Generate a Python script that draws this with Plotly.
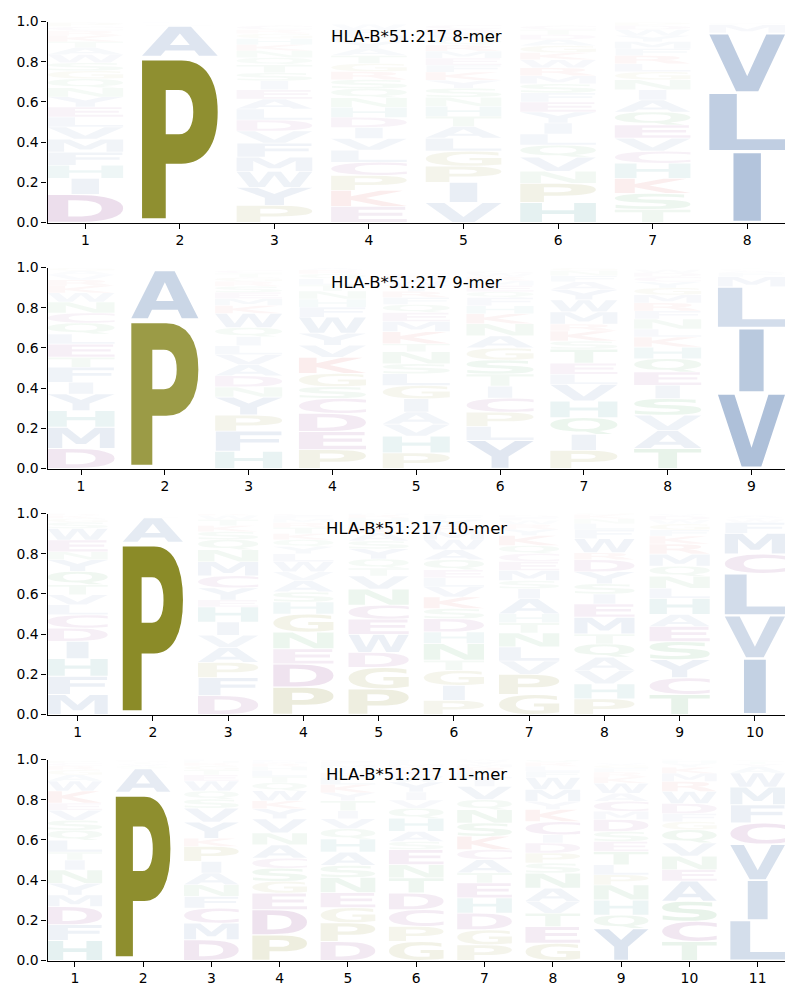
import glob, os, struct
import plotly.graph_objects as go

# ---------------- data (probabilities, stacked bottom -> top) ----------------
titles = ["HLA-B*51:217 8-mer", "HLA-B*51:217 9-mer",
          "HLA-B*51:217 10-mer", "HLA-B*51:217 11-mer"]

mer8_letters = ["DIHFMVLEYNQGSWATKRCP", "PASTVLG", "PYWMFVDLAEISTQNKHGRC",
                "EKPCLVIDHNQSRGTAYMFW", "VIPGLATHNSYKFEMRQWDC", "HPNVQLIYEFSMRWKGADTC",
                "TSKHCVEQAINGLRFMYWDP", "ILVMFAT"]
mer8_probs = [
    [.14, .08, .065, .065, .065, .06, .05, .05, .05, .045, .045, .04, .04, .04, .035, .03, .03, .025, .02, .02],
    [.826, .152, .006, .005, .004, .004, .003],
    [.085, .09, .08, .07, .07, .06, .055, .055, .05, .045, .045, .04, .04, .035, .035, .03, .03, .025, .02, .02],
    [.08, .08, .075, .065, .06, .058, .055, .05, .05, .048, .045, .045, .04, .04, .04, .035, .035, .03, .03, .025],
    [.10, .10, .08, .075, .065, .058, .05, .05, .045, .045, .04, .04, .035, .035, .035, .03, .03, .025, .025, .02],
    [.10, .095, .06, .07, .06, .055, .055, .055, .05, .045, .045, .04, .04, .04, .035, .035, .03, .025, .025, .02],
    [.065, .08, .075, .075, .06, .065, .065, .065, .06, .05, .05, .04, .04, .04, .035, .035, .03, .03, .02, .015],
    [.353, .293, .297, .04, .008, .005, .004],
]

mer9_letters = ["DMHYIFTELQCNWKRVAG", "PASTVG", "HFPYNDAVLIQWKMESRGTC",
                "PEDCSGKVYWFHNTLQRA", "PHVAIGLSNTKMEQFRYWDC", "YLPCITSGANKHFQEMRWD",
                "PIQHVLETSKRMWYAFNG", "TAVSIEQHKLNFRMGYCDW", "VILMFACT"]
mer9_probs = [
    [.10, .105, .083, .083, .058, .075, .05, .065, .05, .055, .05, .055, .045, .035, .03, .025, .02, .015],
    [.741, .246, .005, .004, .003, .003],
    [.086, .10, .08, .09, .05, .055, .055, .05, .045, .045, .045, .07, .04, .035, .03, .03, .025, .02, .02, .015],
    [.094, .09, .09, .075, .058, .066, .08, .06, .06, .08, .05, .04, .04, .03, .03, .025, .02, .01],
    [.078, .083, .06, .06, .066, .066, .058, .05, .06, .04, .06, .05, .045, .04, .035, .03, .03, .025, .02, .015],
    [.14, .07, .07, .07, .06, .06, .07, .06, .06, .06, .05, .04, .04, .03, .03, .025, .02, .015, .01],
    [.09, .08, .083, .083, .083, .05, .055, .07, .04, .05, .035, .06, .06, .05, .04, .03, .025, .015],
    [.10, .09, .075, .083, .066, .066, .066, .058, .05, .04, .05, .04, .04, .04, .035, .03, .025, .02, .015],
    [.376, .324, .204, .05, .02, .01, .008, .005],
]

mer10_letters = ["MFHIDCLVTQYNEWSGKR", "PASVTG", "DFPAVIHEYCMNQSKTWR",
                 "PDENGHSAVWLYQKTRMFCI", "PGDWECNVTQYSAKLHRM", "PIGTNHDSKVLEQAWMRYFC",
                 "GPVLNTHAISMECQKYRWFD", "PHVAQTMEISYDRWFLNKGC", "TCYSEAHLNQMRKFGWDV",
                 "IVLCMFWYATS"]
mer10_probs = [
    [.10, .09, .088, .086, .066, .066, .05, .05, .05, .066, .058, .04, .058, .058, .03, .02, .015, .01],
    [.857, .122, .006, .005, .004, .004],
    [.094, .09, .075, .075, .06, .066, .075, .035, .06, .06, .07, .06, .05, .04, .03, .03, .02, .01],
    [.136, .116, .075, .083, .09, .06, .05, .055, .045, .05, .04, .035, .035, .03, .03, .025, .02, .015, .01, .01],
    [.127, .107, .075, .09, .075, .07, .08, .065, .04, .045, .05, .04, .04, .03, .025, .02, .015, .01],
    [.07, .075, .075, .05, .083, .058, .066, .05, .058, .05, .045, .04, .05, .05, .05, .04, .03, .03, .02, .01],
    [.10, .10, .066, .07, .07, .05, .045, .075, .05, .04, .05, .045, .04, .04, .05, .03, .025, .02, .015, .01],
    [.078, .075, .066, .066, .066, .05, .083, .066, .05, .05, .06, .06, .035, .07, .045, .03, .025, .02, .015, .01],
    [.10, .083, .09, .09, .075, .06, .08, .05, .06, .05, .06, .05, .04, .03, .03, .02, .02, .01],
    [.279, .214, .209, .096, .104, .053, .015, .01, .01, .005, .005],
]

mer11_letters = ["HFDMYNITLQSVEKWAGRCP", "PASVTGL", "DMCFNAIPKYVSQWETGRHL",
                 "PDEGSCANVYKWQTLHRMF", "DPGENSAHQVITYKLRWMFC", "GPCDTNESAHQVIYWKRMLF",
                 "PGDHETACKSNQVILRMYWF", "GETVANSPDICKYMWFLRQ", "YQHNPLTESDMCAWKRFGV",
                 "TCSAENVQGFDWRMKYHL", "LIVCFMWAYTS"]
mer11_probs = [
    [.10, .078, .09, .058, .058, .066, .05, .04, .058, .05, .05, .05, .035, .06, .05, .03, .025, .02, .015, .01],
    [.836, .119, .012, .01, .008, .008, .007],
    [.103, .083, .075, .058, .058, .058, .058, .075, .04, .08, .07, .045, .04, .05, .03, .025, .02, .015, .01, .01],
    [.128, .125, .083, .058, .065, .05, .066, .06, .07, .05, .04, .05, .04, .03, .03, .02, .015, .01, .01],
    [.095, .093, .075, .075, .075, .06, .066, .066, .05, .05, .04, .05, .04, .04, .035, .025, .02, .02, .015, .01],
    [.095, .075, .083, .083, .075, .066, .075, .04, .05, .066, .05, .04, .04, .05, .03, .025, .02, .015, .01, .01],
    [.078, .075, .083, .075, .075, .05, .066, .05, .066, .066, .066, .05, .066, .04, .03, .025, .015, .015, .01, .01],
    [.086, .083, .066, .06, .065, .075, .05, .05, .05, .04, .066, .06, .04, .06, .06, .03, .025, .02, .015],
    [.16, .066, .075, .075, .05, .05, .066, .05, .05, .06, .04, .05, .04, .05, .03, .025, .02, .015, .01],
    [.095, .10, .10, .10, .058, .066, .066, .066, .04, .04, .05, .06, .05, .04, .03, .02, .015, .01],
    [.20, .20, .179, .105, .091, .088, .07, .03, .015, .01, .008],
]

panels = [(titles[0], mer8_letters, mer8_probs),
          (titles[1], mer9_letters, mer9_probs),
          (titles[2], mer10_letters, mer10_probs),
          (titles[3], mer11_letters, mer11_probs)]

# residue colour groups
GROUP_COLORS = [
    ("AVLIMFWY", (40, 88, 155)),
    ("PG", (120, 120, 5)),
    ("DEC", (120, 20, 120)),
    ("KR", (200, 30, 30)),
    ("H", (0, 120, 120)),
    ("NQST", (30, 140, 50)),
]
COLOR = {}
for letters, rgb in GROUP_COLORS:
    for ch in letters:
        COLOR[ch] = rgb

GLYPH_WIDTH = 0.8
VPAD = 0.05


# ---------------- minimal TrueType outline reader ----------------
class TTF:
    def __init__(self, path):
        d = open(path, "rb").read()
        self.d = d
        n = struct.unpack(">H", d[4:6])[0]
        self.t = {}
        for i in range(n):
            tag, _, off, ln = struct.unpack(">4sIII", d[12 + 16 * i:28 + 16 * i])
            self.t[tag.decode("latin1")] = off
        head = self.t["head"]
        self.locfmt = struct.unpack(">h", d[head + 50:head + 52])[0]
        maxp = self.t["maxp"]
        ng = struct.unpack(">H", d[maxp + 4:maxp + 6])[0]
        lo = self.t["loca"]
        if self.locfmt == 0:
            self.loca = [2 * v for v in struct.unpack(">%dH" % (ng + 1), d[lo:lo + 2 * (ng + 1)])]
        else:
            self.loca = list(struct.unpack(">%dI" % (ng + 1), d[lo:lo + 4 * (ng + 1)]))
        self.cmap = self._cmap()

    def _cmap(self):
        d = self.d
        base = self.t["cmap"]
        n = struct.unpack(">H", d[base + 2:base + 4])[0]
        sub = None
        for i in range(n):
            pid, eid, off = struct.unpack(">HHI", d[base + 4 + 8 * i:base + 12 + 8 * i])
            fmt = struct.unpack(">H", d[base + off:base + off + 2])[0]
            if fmt == 4 and ((pid == 3 and eid == 1) or pid == 0):
                sub = base + off
                break
        segx2 = struct.unpack(">H", d[sub + 6:sub + 8])[0]
        seg = segx2 // 2
        p = sub + 14
        ends = struct.unpack(">%dH" % seg, d[p:p + segx2]); p += segx2 + 2
        starts = struct.unpack(">%dH" % seg, d[p:p + segx2]); p += segx2
        deltas = struct.unpack(">%dh" % seg, d[p:p + segx2]); p += segx2
        ro_pos = p
        ros = struct.unpack(">%dH" % seg, d[p:p + segx2])
        m = {}
        for ch in "ACDEFGHIKLMNPQRSTVWY":
            c = ord(ch)
            for i in range(seg):
                if starts[i] <= c <= ends[i]:
                    if ros[i] == 0:
                        g = (c + deltas[i]) & 0xFFFF
                    else:
                        a = ro_pos + 2 * i + ros[i] + 2 * (c - starts[i])
                        g = struct.unpack(">H", d[a:a + 2])[0]
                        if g:
                            g = (g + deltas[i]) & 0xFFFF
                    m[ch] = g
                    break
        return m

    def glyph(self, gid):
        d = self.d
        off = self.t["glyf"] + self.loca[gid]
        if self.loca[gid + 1] == self.loca[gid]:
            return [], (0, 0, 1, 1)
        nc, x0, y0, x1, y1 = struct.unpack(">hhhhh", d[off:off + 10])
        p = off + 10
        if nc < 0:
            cs = []
            while True:
                fl, gi = struct.unpack(">HH", d[p:p + 4]); p += 4
                if fl & 1:
                    a1, a2 = struct.unpack(">hh", d[p:p + 4]); p += 4
                else:
                    a1, a2 = struct.unpack(">bb", d[p:p + 2]); p += 2
                if fl & 8:
                    p += 2
                elif fl & 0x40:
                    p += 4
                elif fl & 0x80:
                    p += 8
                sub, _ = self.glyph(gi)
                dx, dy = (a1, a2) if fl & 2 else (0, 0)
                cs += [[(x + dx, y + dy, o) for x, y, o in c] for c in sub]
                if not fl & 0x20:
                    break
            return cs, (x0, y0, x1, y1)
        ends = struct.unpack(">%dH" % nc, d[p:p + 2 * nc]); p += 2 * nc
        il = struct.unpack(">H", d[p:p + 2])[0]; p += 2 + il
        npts = ends[-1] + 1
        flags = []
        while len(flags) < npts:
            f = d[p]; p += 1
            flags.append(f)
            if f & 8:
                r = d[p]; p += 1
                flags.extend([f] * r)
        xs, x = [], 0
        for f in flags:
            if f & 2:
                v = d[p]; p += 1
                x += v if f & 16 else -v
            elif not f & 16:
                x += struct.unpack(">h", d[p:p + 2])[0]; p += 2
            xs.append(x)
        ys, y = [], 0
        for f in flags:
            if f & 4:
                v = d[p]; p += 1
                y += v if f & 32 else -v
            elif not f & 32:
                y += struct.unpack(">h", d[p:p + 2])[0]; p += 2
            ys.append(y)
        pts = [(xs[i], ys[i], flags[i] & 1) for i in range(npts)]
        cs, s = [], 0
        for e in ends:
            cs.append(pts[s:e + 1])
            s = e + 1
        return cs, (x0, y0, x1, y1)


def find_font():
    cands = ["/usr/share/fonts/truetype/dejavu/DejaVuSans-Bold.ttf"]
    for name in ["DejaVuSans-Bold.ttf", "LiberationSans-Bold.ttf", "Roboto-Bold.ttf"]:
        cands += glob.glob("/usr/share/fonts/**/" + name, recursive=True)
        cands += glob.glob("/usr/local/share/fonts/**/" + name, recursive=True)
    for c in cands:
        if os.path.exists(c):
            return c
    return None


GLYPHS = {}
REF_W = 1.0
fp = find_font()
if fp:
    try:
        ttf = TTF(fp)
        for ch in "ACDEFGHIKLMNPQRSTVWY":
            GLYPHS[ch] = ttf.glyph(ttf.cmap[ch])
        e = GLYPHS["E"][1]
        REF_W = e[2] - e[0]
    except Exception:
        GLYPHS = {}


def contour_to_path(c, T):
    if not c:
        return ""
    if not any(p[2] for p in c):
        mx = (c[0][0] + c[-1][0]) / 2.0
        my = (c[0][1] + c[-1][1]) / 2.0
        c = [(mx, my, 1)] + c
    k = next(i for i, p in enumerate(c) if p[2])
    c = c[k:] + c[:k]
    fmt = lambda q: "%.4f,%.4f" % T(q[0], q[1])
    out = ["M" + fmt(c[0])]
    prev = None
    for p in c[1:] + [c[0]]:
        if p[2]:
            if prev is not None:
                out.append("Q" + fmt(prev) + " " + fmt(p))
                prev = None
            else:
                out.append("L" + fmt(p))
        else:
            if prev is not None:
                mid = ((prev[0] + p[0]) / 2.0, (prev[1] + p[1]) / 2.0)
                out.append("Q" + fmt(prev) + " " + fmt(mid))
            prev = p
    out.append("Z")
    return "".join(out)


def letter_path(ch, xc, y0, y1):
    if ch not in GLYPHS:
        w = GLYPH_WIDTH
        return "M%.4f,%.4fL%.4f,%.4fL%.4f,%.4fL%.4f,%.4fZ" % (
            xc - w / 2, y0, xc + w / 2, y0, xc + w / 2, y1, xc - w / 2, y1)
    cs, (gx0, gy0, gx1, gy1) = GLYPHS[ch]
    gw = max(gx1 - gx0, 1)
    gh = max(gy1 - gy0, 1)
    w = GLYPH_WIDTH * min(1.0, gw / REF_W)
    xa = xc - w / 2

    def T(x, y):
        return (xa + (x - gx0) / gw * w, y0 + (y - gy0) / gh * (y1 - y0))
    return "".join(contour_to_path(c, T) for c in cs)


# ---------------- figure ----------------
# the page body has an 8px default margin, so the figure is 792x992 and
# reference pixel positions are shifted by 8px
fig = go.Figure()
OFF = 8.0
W, H = 800.0 - OFF, 1000.0 - OFF
x_dom = [(47.5 - OFF) / W, (785.0 - OFF) / W]
panel_tops = [21.5, 267.5, 513.5, 759.5]
panel_h = 201.0

shapes = []
annotations = []
for i, (title, letters_cols, probs_cols) in enumerate(panels):
    n = len(letters_cols)
    sfx = "" if i == 0 else str(i + 1)
    xa, ya = "x" + sfx, "y" + sfx
    positions = list(range(1, n + 1))
    totals = [sum(v) for v in probs_cols]
    fig.add_trace(go.Scatter(x=positions, y=totals, xaxis=xa, yaxis=ya, mode="markers",
                             marker=dict(opacity=0), hoverinfo="skip", showlegend=False))
    for pos, lets, vals in zip(positions, letters_cols, probs_cols):
        floor = 0.0
        for ch, v in zip(lets, vals):
            pad = VPAD * v / 2.0
            path = letter_path(ch, pos, floor + pad, floor + v - pad)
            r, g, b = COLOR[ch]
            a = max(0.0, min(1.0, v))
            shapes.append(dict(type="path", path=path, xref=xa, yref=ya,
                               fillcolor="rgba(%d,%d,%d,%.3f)" % (r, g, b, a),
                               line=dict(width=0), layer="above"))
            floor += v
    top = panel_tops[i] - OFF
    y_dom = [1 - (top + panel_h) / H, 1 - top / H]
    axis_common = dict(showline=True, linecolor="black", linewidth=1.1, ticks="outside",
                       ticklen=5, tickwidth=1.1, tickcolor="black", showgrid=False,
                       zeroline=False, fixedrange=True, automargin=False,
                       tickfont=dict(family="DejaVu Sans", size=13.9, color="black"))
    fig.layout["xaxis" + sfx] = dict(domain=x_dom, range=[0.6, n + 0.4], anchor=ya,
                                     tickmode="array", tickvals=positions,
                                     ticktext=[str(p) for p in positions], **axis_common)
    fig.layout["yaxis" + sfx] = dict(domain=y_dom, range=[0, 1], anchor=xa,
                                     tickmode="array", tickvals=[0, .2, .4, .6, .8, 1.0],
                                     ticktext=["0.0", "0.2", "0.4", "0.6", "0.8", "1.0"],
                                     **axis_common)
    annotations.append(dict(text=title, xref=xa + " domain", yref=ya, x=0.5, y=0.925,
                            xanchor="center", yanchor="middle", showarrow=False,
                            font=dict(family="DejaVu Sans", size=16.5, color="black")))

fig.update_layout(width=W, height=H, margin=dict(l=0, r=0, t=0, b=0, autoexpand=False),
                  plot_bgcolor="white", paper_bgcolor="white", showlegend=False,
                  shapes=shapes, annotations=annotations)
fig.write_html("out.html")
